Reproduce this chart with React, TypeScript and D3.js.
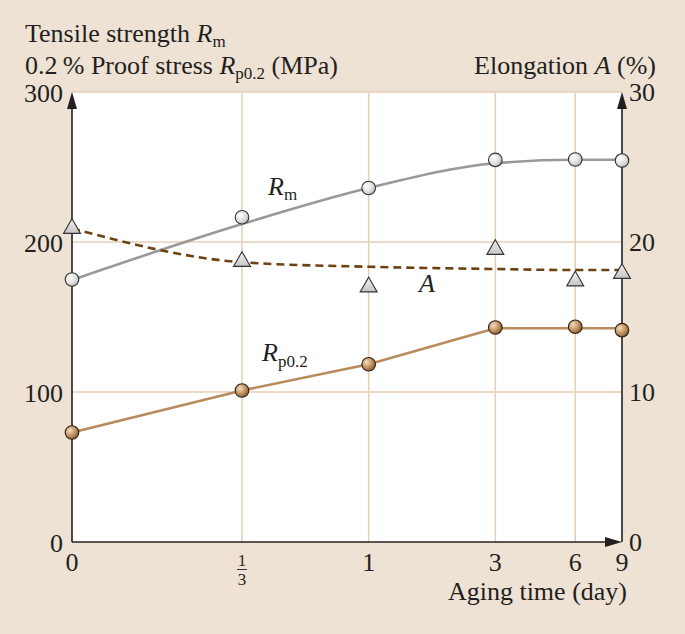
import React from 'react';
import * as d3 from 'd3';

const days = [0, 1 / 3, 1, 3, 6, 9];
const dayLabels = ['0', '1/3', '1', '3', '6', '9'];
const gridDays = [1 / 3, 1, 3, 6];
const leftTicks = [0, 100, 200, 300];
const rightTicks = [0, 10, 20, 30];

const rmPoints = [175, 216.5, 236, 254.7, 255, 254.3];
const rmFit = [174.7, 212, 236, 252.5, 254.8, 254.8];
const rpPoints = [73, 101, 118.5, 143, 143.5, 141.2];
const rpFit = [73, 101, 118.5, 142.5, 142.5, 142.5];
const aPoints = [20.9, 18.7, 17.0, 19.5, 17.4, 17.9];
const aFit = [20.9, 18.65, 18.35, 18.2, 18.13, 18.13];

const W = 685, H = 634;
const L = 72, R = 622, T = 92, B = 542;
const FONT = '"Liberation Serif", "Times New Roman", serif';
const FS = 26;
const SUB = 17;

export default function App() {
  const logX = d3.scaleLog().domain([1 / 3, 9]).range([242, R]);
  const x = (t: number) => (t === 0 ? L : logX(t));
  const y = d3.scaleLinear().domain([0, 300]).range([B, T]);
  const yr = d3.scaleLinear().domain([0, 30]).range([B, T]);

  const lineL = d3.line<number>().x((_, i) => x(days[i])).y((v) => y(v)).curve(d3.curveMonotoneX);
  const lineLin = d3.line<number>().x((_, i) => x(days[i])).y((v) => y(v));
  const lineR = d3.line<number>().x((_, i) => x(days[i])).y((v) => yr(v)).curve(d3.curveMonotoneX);
  const tri = d3.symbol().type(d3.symbolTriangle).size(125)();

  return (
    <svg width={W} height={H} style={{ position: 'absolute', left: 0, top: 0 }} fontFamily={FONT}>
      <defs>
        <radialGradient id="gGray" cx="0.35" cy="0.35" r="0.75">
          <stop offset="0" stopColor="#ffffff" />
          <stop offset="0.6" stopColor="#dedede" />
          <stop offset="1" stopColor="#a8a8a8" />
        </radialGradient>
        <radialGradient id="gBrown" cx="0.35" cy="0.35" r="0.75">
          <stop offset="0" stopColor="#f3dcc0" />
          <stop offset="0.55" stopColor="#c09060" />
          <stop offset="1" stopColor="#7a5228" />
        </radialGradient>
        <linearGradient id="gTri" x1="0" y1="0" x2="0" y2="1">
          <stop offset="0" stopColor="#f4f4f4" />
          <stop offset="1" stopColor="#c4c4c4" />
        </linearGradient>
      </defs>
      <rect x={0} y={0} width={W} height={H} fill="#eee2d5" />
      <rect x={L} y={T} width={R - L} height={B - T} fill="#ffffff" />
      {/* grid */}
      {leftTicks.filter((v) => v > 0).map((v) => (
        <line key={'h' + v} x1={L} x2={R} y1={y(v)} y2={y(v)} stroke="#e6cfb6" strokeWidth={1.5} />
      ))}
      {gridDays.map((d) => (
        <line key={'v' + d} x1={x(d)} x2={x(d)} y1={T} y2={B} stroke="#e6cfb6" strokeWidth={1.5} />
      ))}
      {/* axes */}
      <line x1={L} x2={L} y1={T + 4} y2={B} stroke="#231f20" strokeWidth={1.6} />
      <line x1={R} x2={R} y1={T + 4} y2={B} stroke="#231f20" strokeWidth={1.6} />
      <line x1={L} x2={R - 4} y1={B} y2={B} stroke="#231f20" strokeWidth={1.6} />
      <path d={`M${L},${T}L${L - 5},${T + 17}L${L + 5},${T + 17}Z`} fill="#231f20" />
      <path d={`M${R},${T}L${R - 5},${T + 17}L${R + 5},${T + 17}Z`} fill="#231f20" />
      <path d={`M${R},${B}L${R - 17},${B - 5}L${R - 17},${B + 5}Z`} fill="#231f20" />

      {/* curves */}
      <path d={lineL(rmFit) || ''} fill="none" stroke="#999999" strokeWidth={2.6} />
      <path d={lineLin(rpFit) || ''} fill="none" stroke="#b88a5c" strokeWidth={2.6} />
      <path d={lineR(aFit) || ''} fill="none" stroke="#6e4210" strokeWidth={2.6} strokeDasharray="8,5" />

      {/* markers */}
      {aPoints.map((v, i) => (
        <path key={'a' + i} d={tri || ''} transform={`translate(${x(days[i])},${yr(v)})`} fill="url(#gTri)" stroke="#333" strokeWidth={1.1} />
      ))}
      {rmPoints.map((v, i) => (
        <circle key={'m' + i} cx={x(days[i])} cy={y(v)} r={6.8} fill="url(#gGray)" stroke="#333" strokeWidth={1.1} />
      ))}
      {rpPoints.map((v, i) => (
        <circle key={'p' + i} cx={x(days[i])} cy={y(v)} r={6.8} fill="url(#gBrown)" stroke="#2e2012" strokeWidth={1.1} />
      ))}

      {/* series labels */}
      <text x={268} y={195} fontSize={FS} fill="#231f20">
        <tspan fontStyle="italic">R</tspan>
        <tspan fontSize={SUB} dy={5}>m</tspan>
      </text>
      <text x={419} y={292} fontSize={FS} fill="#231f20" fontStyle="italic">A</text>
      <text x={262} y={361} fontSize={FS} fill="#231f20">
        <tspan fontStyle="italic">R</tspan>
        <tspan fontSize={SUB} dy={6}>p0.2</tspan>
      </text>

      {/* titles */}
      <text x={25} y={42} fontSize={FS} fill="#231f20">
        Tensile strength <tspan fontStyle="italic">R</tspan>
        <tspan fontSize={SUB} dy={5}>m</tspan>
      </text>
      <text x={25} y={74} fontSize={FS} fill="#231f20">
        0.2{'\u2009'}% Proof stress <tspan fontStyle="italic">R</tspan>
        <tspan fontSize={SUB} dy={5}>p0.2</tspan>
        <tspan dy={-5}> (MPa)</tspan>
      </text>
      <text x={656} y={74} fontSize={FS} fill="#231f20" textAnchor="end">
        Elongation <tspan fontStyle="italic">A</tspan> (%)
      </text>

      {/* left ticks */}
      {leftTicks.map((v) => (
        <text key={'l' + v} x={63} y={y(v) + 10} fontSize={FS} fill="#231f20" textAnchor="end">{v}</text>
      ))}
      {rightTicks.map((v) => (
        <text key={'r' + v} x={629} y={yr(v) + 9} fontSize={FS} fill="#231f20">{v}</text>
      ))}
      {/* x ticks */}
      {days.map((d, i) =>
        dayLabels[i] === '1/3' ? (
          <g key={'x' + i}>
            <text x={x(d)} y={566} fontSize={17} fill="#231f20" textAnchor="middle">1</text>
            <line x1={x(d) - 5} x2={x(d) + 5} y1={569.5} y2={569.5} stroke="#231f20" strokeWidth={0.9} />
            <text x={x(d)} y={585} fontSize={17} fill="#231f20" textAnchor="middle">3</text>
          </g>
        ) : (
          <text key={'x' + i} x={x(d)} y={571} fontSize={FS} fill="#231f20" textAnchor="middle">{dayLabels[i]}</text>
        )
      )}
      <text x={627} y={600} fontSize={FS} fill="#231f20" textAnchor="end">Aging time (day)</text>
    </svg>
  );
}
